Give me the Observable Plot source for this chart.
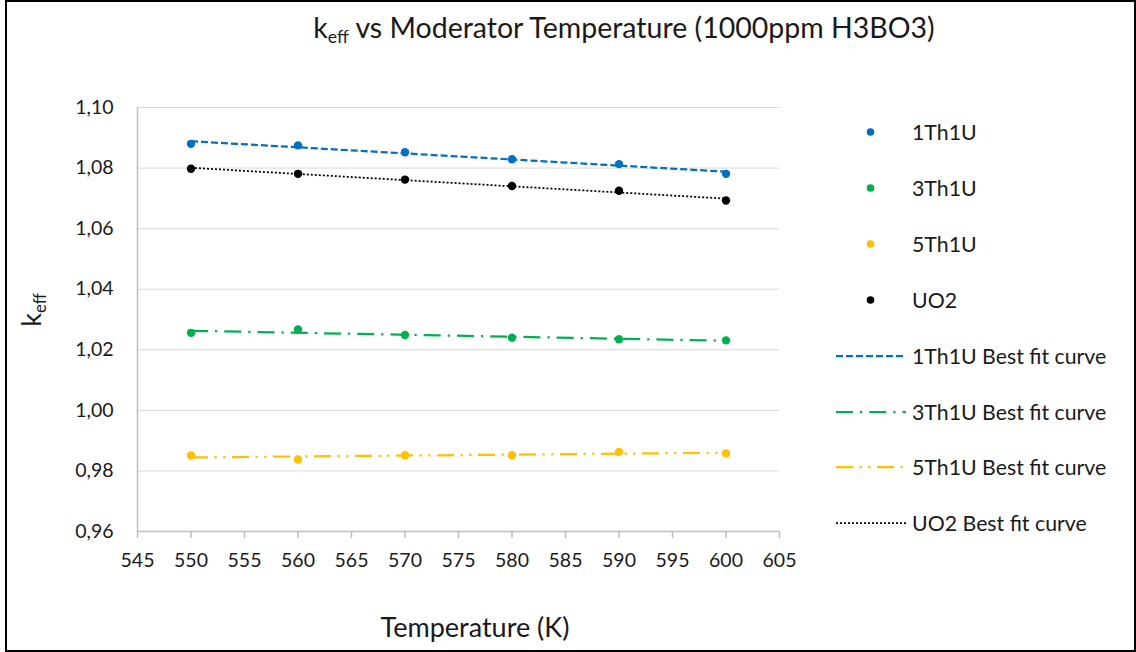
<!DOCTYPE html>
<html>
<head>
<meta charset="utf-8">
<script src="https://cdn.jsdelivr.net/npm/d3@7"></script>
<script src="https://cdn.jsdelivr.net/npm/@observablehq/plot@0.6"></script>
<style>
  html, body { margin: 0; padding: 0; background: #fff; }
  #wrap { position: relative; width: 1136px; height: 652px; overflow: hidden; font-family: Lato, "Open Sans", sans-serif; color: #1a1a1a; }
  #frame { position: absolute; left: 5px; top: 0; width: 1131px; height: 652px; border: 2px solid #000; box-sizing: border-box; pointer-events: none; }
  #title { position: absolute; left: 224px; width: 800px; top: 10px; text-align: center; font-size: 28.5px; white-space: nowrap; }
  #xtitle { position: absolute; left: 275px; width: 400px; top: 610px; text-align: center; font-size: 27px; white-space: nowrap; }
  #ytitle { position: absolute; left: 30px; top: 310px; font-size: 27px; white-space: nowrap; transform: translate(-50%, -50%) rotate(-90deg); }
  sub { font-size: 0.62em; vertical-align: -0.3em; line-height: 0; }
  #chart { position: absolute; left: 0; top: 0; }
  #legend { position: absolute; left: 836px; top: 0; }
  .row { position: absolute; left: 0; height: 24px; display: flex; align-items: center; white-space: nowrap; font-size: 21.3px; }
  .row svg { width: 70px; height: 12px; margin-right: 6px; flex: none; }
</style>
</head>
<body>
<div id="wrap">
  <div id="chart"></div>
  <div id="title">k<sub>eff</sub> vs Moderator Temperature (1000ppm H3BO3)</div>
  <div id="xtitle">Temperature (K)</div>
  <div id="ytitle">k<sub>eff</sub></div>
  <div id="legend"></div>
  <div id="frame"></div>
</div>
<script>
// ---- data ----
const temperatures = [550, 560, 570, 580, 590, 600];
const k1Th1U = [1.0880, 1.0875, 1.0852, 1.0829, 1.0813, 1.0781];
const k3Th1U = [1.0256, 1.0267, 1.0249, 1.0240, 1.0235, 1.0231];
const k5Th1U = [0.9851, 0.9838, 0.9852, 0.9852, 0.9863, 0.9858];
const kUO2   = [1.0798, 1.0781, 1.0762, 1.0741, 1.0725, 1.0693];
const seriesNames = ["1Th1U", "3Th1U", "5Th1U", "UO2"];
const seriesColors = ["#0070C0", "#00B050", "#FFC000", "#000000"];
const fitDashes = ["7,3", "17,7,2.25,7", "17,6.5,2.25,6.5,2.25,6.5", "2,2"];
const fitWidths = [2.25, 2.25, 2.25, 1.75];
const xTicks = [545, 550, 555, 560, 565, 570, 575, 580, 585, 590, 595, 600, 605];
const yTicks = [0.96, 0.98, 1.00, 1.02, 1.04, 1.06, 1.08, 1.10];

const seriesValues = [k1Th1U, k3Th1U, k5Th1U, kUO2];
const rows = seriesNames.flatMap((name, i) =>
  temperatures.map((t, j) => ({series: name, T: t, k: seriesValues[i][j]})));

const fitMarks = seriesNames.map((name, i) =>
  Plot.linearRegressionY(rows.filter(d => d.series === name), {
    x: "T", y: "k", ci: 0, stroke: seriesColors[i], strokeWidth: fitWidths[i],
    strokeDasharray: fitDashes[i], strokeLinecap: "butt"
  }));

const dotMarks = seriesNames.map((name, i) =>
  Plot.dot(rows.filter(d => d.series === name), {
    x: "T", y: "k", r: 4.2, fill: seriesColors[i], stroke: "none"
  }));

const chart = Plot.plot({
  width: 800,
  height: 652,
  marginLeft: 137,
  marginRight: 21,
  marginTop: 107,
  marginBottom: 121,
  style: {fontFamily: "Lato, 'Open Sans', sans-serif", fontSize: "19.5px", color: "#1a1a1a", background: "transparent"},
  x: {domain: [545, 605], ticks: xTicks},
  y: {domain: [0.96, 1.10], ticks: yTicks},
  marks: [
    Plot.gridY(yTicks, {stroke: "#d9d9d9", strokeOpacity: 1, strokeWidth: 1}),
    Plot.ruleX([545], {stroke: "#bfbfbf", strokeWidth: 1.5}),
    Plot.ruleY([0.96], {stroke: "#bfbfbf", strokeWidth: 1.5}),
    Plot.axisX(xTicks, {tickSize: 7, tickPadding: 15, stroke: "#bfbfbf", strokeWidth: 1.5, label: null, tickFormat: d => String(d)}),
    Plot.axisY(yTicks, {tickSize: 0, tickPadding: 24, label: null, tickFormat: d => d.toFixed(2).replace(".", ",")}),
    ...fitMarks,
    ...dotMarks
  ]
});
document.getElementById("chart").appendChild(chart);

// ---- legend ----
const legend = document.getElementById("legend");
const legendItems = [
  ...seriesNames.map((n, i) => ({label: n, kind: "dot", i})),
  ...seriesNames.map((n, i) => ({label: n + " Best fit curve", kind: "line", i}))
];
const rowTop = 120, rowStep = 55.9;
legendItems.forEach((item, idx) => {
  const div = document.createElement("div");
  div.className = "row";
  div.style.top = (rowTop + idx * rowStep) + "px";
  const ns = "http://www.w3.org/2000/svg";
  const svg = document.createElementNS(ns, "svg");
  svg.setAttribute("viewBox", "0 0 70 12");
  if (item.kind === "dot") {
    const c = document.createElementNS(ns, "circle");
    c.setAttribute("cx", 34.5); c.setAttribute("cy", 6); c.setAttribute("r", 3.8);
    c.setAttribute("fill", seriesColors[item.i]);
    svg.appendChild(c);
  } else {
    const l = document.createElementNS(ns, "line");
    l.setAttribute("x1", 0); l.setAttribute("x2", 70); l.setAttribute("y1", 6); l.setAttribute("y2", 6);
    l.setAttribute("stroke", seriesColors[item.i]);
    l.setAttribute("stroke-width", fitWidths[item.i]);
    l.setAttribute("stroke-dasharray", fitDashes[item.i]);
    svg.appendChild(l);
  }
  div.appendChild(svg);
  const span = document.createElement("span");
  span.textContent = item.label;
  div.appendChild(span);
  legend.appendChild(div);
});
</script>
</body>
</html>
